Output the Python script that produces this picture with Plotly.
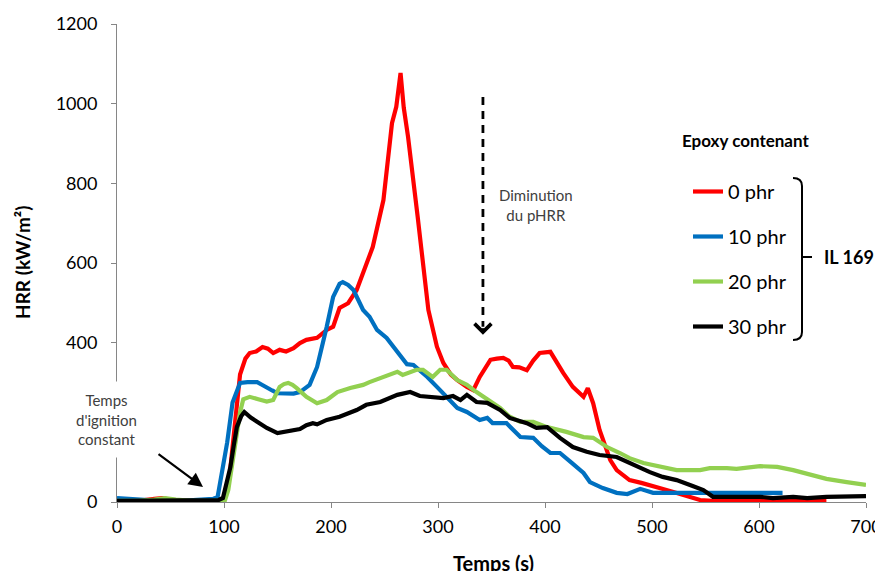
import plotly.graph_objects as go

# ---------------- data ----------------
x_0phr = [0, 20, 35, 42, 50, 60, 80, 95, 100, 105, 110, 115, 120, 124, 130, 136, 141, 146, 152, 158,
          165, 171, 177, 187, 196, 202, 208, 216, 224, 233, 239, 249, 253, 257, 261, 265, 268, 272,
          281, 291, 299, 305, 312, 318, 327, 333, 339, 349, 355, 361, 366, 370, 376, 383, 389, 395,
          405, 411, 417, 426, 436, 440, 445, 451, 461, 467, 479, 490, 498, 507, 520, 538, 545, 560,
          600, 663]
y_0phr = [3, 3, 8, 10, 6, 3, 3, 4, 8, 60, 190, 320, 360, 374, 378, 389, 385, 374, 382, 378,
          386, 399, 407, 412, 432, 440, 487, 499, 532, 595, 640, 758, 850, 951, 992, 1077, 990, 917,
          716, 482, 390, 349, 320, 306, 289, 281, 314, 357, 360, 362, 355, 339, 338, 331, 355, 374,
          377, 350, 324, 289, 264, 286, 248, 181, 105, 80, 55, 48, 43, 35, 25, 10, 5, 2,
          2, 2]

x_10phr = [0, 10, 20, 40, 60, 80, 90, 94, 98, 103, 108, 115, 122, 131, 135, 140, 145, 150, 159, 165,
           171, 180, 187, 192, 196, 202, 208, 211, 216, 221, 230, 236, 243, 252, 261, 271, 277, 290,
           299, 308, 318, 327, 339, 346, 351, 364, 377, 389, 397, 405, 414, 425, 436, 442, 454, 467,
           477, 489, 501, 523, 554, 594, 622]
y_10phr = [10, 8, 5, 3, 3, 5, 8, 12, 70, 150, 250, 299, 301, 301, 295, 286, 280, 273, 273, 272,
           276, 294, 339, 390, 440, 515, 548, 552, 545, 532, 482, 465, 432, 412, 382, 346, 344, 314,
           289, 264, 236, 226, 206, 211, 198, 198, 163, 161, 140, 123, 123, 98, 73, 50, 35, 23,
           20, 33, 23, 23, 23, 23, 23]

x_20phr = [0, 20, 35, 45, 55, 70, 90, 101, 104, 108, 112, 115, 118, 124, 132, 140, 146, 152, 156,
           160, 164, 168, 177, 187, 196, 206, 218, 230, 236, 249, 262, 267, 280, 286, 295, 302, 308,
           318, 327, 336, 349, 358, 367, 377, 389, 402, 420, 436, 445, 458, 470, 479, 492, 507, 523,
           545, 554, 570, 579, 601, 617, 632, 648, 663, 682, 700]
y_20phr = [3, 3, 6, 10, 6, 3, 3, 5, 30, 100, 170, 225, 258, 264, 258, 252, 256, 289, 296,
           299, 294, 286, 264, 248, 256, 276, 286, 294, 301, 314, 327, 319, 332, 332, 314, 332, 332,
           306, 294, 276, 251, 236, 214, 201, 201, 188, 176, 163, 161, 138, 123, 110, 98, 88, 80,
           80, 85, 85, 83, 90, 88, 80, 68, 58, 50, 43]

x_30phr = [0, 20, 40, 60, 80, 95, 99, 102, 106, 109, 112, 116, 119, 125, 131, 140, 150, 159, 171,
           177, 183, 187, 196, 208, 216, 224, 233, 246, 262, 274, 283, 295, 305, 314, 321, 327, 336,
           346, 358, 367, 383, 392, 402, 414, 426, 439, 451, 467, 479, 486, 498, 510, 523, 538, 548,
           557, 570, 601, 613, 632, 645, 663, 700]
y_30phr = [3, 3, 3, 3, 3, 5, 10, 40, 88, 140, 188, 215, 226, 212, 201, 186, 173, 178, 183,
           193, 198, 195, 206, 214, 223, 231, 244, 251, 269, 276, 266, 264, 261, 266, 256, 269, 251,
           249, 231, 211, 198, 186, 188, 161, 138, 126, 118, 113, 98, 88, 75, 63, 55, 40, 30,
           13, 13, 13, 10, 13, 10, 13, 15]

series_names = ["0 phr", "10 phr", "20 phr", "30 phr"]
series_x = [x_0phr, x_10phr, x_20phr, x_30phr]
series_y = [y_0phr, y_10phr, y_20phr, y_30phr]
series_colors = ["#FF0000", "#0070C0", "#92D050", "#000000"]

x_ticks = [0, 100, 200, 300, 400, 500, 600, 700]
y_ticks = [0, 200, 400, 600, 800, 1000, 1200]
# the "200" label is hidden behind the ignition note in the reference
y_tick_labels = ["0", "", "400", "600", "800", "1000", "1200"]

# ---------------- layout helpers (reference pixel -> paper) ----------------
OFF = 8  # page body margin
L, R, T, B = 117, 866, 24, 502
def px(p):
    return (p - L) / (R - L)
def py(p):
    return (B - p) / (B - T)

FONT = "Lato, Carlito, 'Liberation Sans', sans-serif"

fig = go.Figure()
for i, (n, xs, ys, c) in enumerate(zip(series_names, series_x, series_y, series_colors)):
    fig.add_trace(go.Scatter(x=xs, y=ys, mode="lines", name=n,
                             line=dict(color=c, width=4.2), legendgroup=f"g{i}"))

axis_common = dict(showgrid=False, zeroline=False, showline=True, linecolor="#868686",
                   linewidth=1, ticks="outside", ticklen=5, tickcolor="#868686", automargin=False,
                   tickfont=dict(family=FONT, size=18, color="#000000"))

fig.update_layout(
    width=883 - OFF, height=571 - OFF,
    margin=dict(l=L - OFF, r=883 - R, t=T - OFF, b=571 - B),
    paper_bgcolor="white", plot_bgcolor="white",
    font=dict(family=FONT),
    xaxis=dict(range=[0, 700], tickvals=x_ticks, ticklabelstandoff=3, **axis_common),
    yaxis=dict(range=[0, 1200], tickvals=y_ticks, ticktext=y_tick_labels,
               ticklabelstandoff=10, **axis_common),
    showlegend=True,
    legend=dict(x=px(688), y=py(172), xanchor="left", yanchor="top",
                font=dict(family=FONT, size=20, color="#000000"),
                tracegroupgap=16, itemwidth=30, bgcolor="rgba(0,0,0,0)"),
)

def label(text, x, y, size, color="#000000", angle=0, xanchor="center", **kw):
    return dict(text=text, x=px(x), y=py(y), xref="paper", yref="paper", showarrow=False,
                xanchor=xanchor, yanchor="middle", textangle=angle, align="center",
                font=dict(family=FONT, size=size, color=color), **kw)

ann = [
    label("<b>HRR (kW/m²)</b>", 22, 263, 19, angle=-90),
    label("<b>Temps (s)</b>", 493, 563, 20),
    label("<b>Epoxy contenant</b>", 745, 140, 17),
    label("<b>IL 169</b>", 822, 257, 18, xanchor="left"),
    label("Temps<br>d'ignition<br>constant", 106, 419, 15, color="#404040",
          bgcolor="white", borderpad=9),
    label("Diminution<br>du pHRR", 536, 205, 15, color="#404040"),
    dict(text="", x=80.4, y=37.7, xref="x", yref="y", showarrow=True,
         ax=-46, ay=-34, arrowhead=2, arrowsize=1.3, arrowwidth=2.2, arrowcolor="#000000"),
    dict(text="", x=342, y=420, xref="x", yref="y", showarrow=True,
         ax=0, ay=-8, arrowhead=4, arrowsize=1.3, arrowwidth=2.5, arrowcolor="#000000"),
]
fig.update_layout(annotations=ann)

shapes = []
shapes.append(dict(type="line", xref="x", yref="y", x0=342, x1=342, y0=1017, y1=440,
                   line=dict(color="#000000", width=2.8, dash="8px,6px")))
# bracket
bp = (f"M {px(793)},{py(178)} Q {px(802)},{py(178)} {px(802)},{py(186)} "
      f"L {px(802)},{py(332)} Q {px(802)},{py(340)} {px(793)},{py(340)} "
      f"M {px(802)},{py(257)} L {px(812)},{py(257)}")
shapes.append(dict(type="path", xref="paper", yref="paper", path=bp,
                   line=dict(color="#000000", width=2)))
fig.update_layout(shapes=shapes)

fig.write_html("out.html")
